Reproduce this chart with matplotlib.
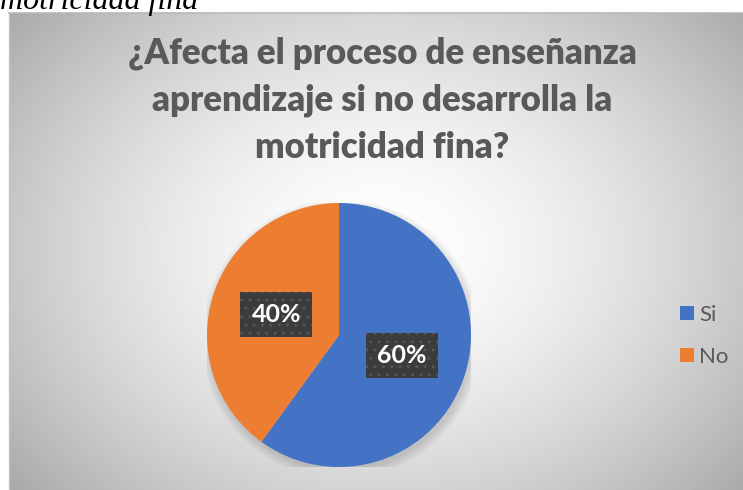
import numpy as np
import matplotlib
matplotlib.use('Agg')
import matplotlib.pyplot as plt
from matplotlib.patches import Circle, Patch

# chart data
categorias = ['Si', 'No']
porcentajes = [60, 40]
colores = ['#4472C4', '#ED7D31']
titulo = '¿Afecta el proceso de enseñanza\naprendizaje si no desarrolla la\nmotricidad fina?'
texto_superior = 'motricidad fina'

W, H = 743, 490
fig = plt.figure(figsize=(W / 100, H / 100), dpi=100)
fig.patch.set_facecolor('white')

# chart area with radial gradient background
bx0, by0 = 9, 13
ax_bg = fig.add_axes([bx0 / W, 0, 1 - bx0 / W, (H - by0) / H])
xx, yy = np.meshgrid(np.linspace(bx0, W, 400), np.linspace(by0, H, 300))
r = np.sqrt(((xx - 380) / 430) ** 2 + ((yy - 250) / 330) ** 2)
grad = np.clip(1.0 - 0.28 * r ** 1.6, 0, 1)
ax_bg.imshow(grad, cmap='gray', vmin=0, vmax=1, aspect='auto',
             extent=[0, 1, 0, 1], origin='upper', interpolation='bilinear')
ax_bg.set_xlim(0, 1)
ax_bg.set_ylim(0, 1)
ax_bg.axis('off')
fig.add_artist(plt.Line2D([bx0 / W, 1], [1 - by0 / H, 1 - by0 / H],
                          color='#b8b8b8', lw=1.2))
fig.add_artist(plt.Line2D([bx0 / W, bx0 / W], [0, 1 - by0 / H],
                          color='#c4c4c4', lw=1.0))

# caption text above the chart (cut off at the top, as in the source)
fig.text(0, 1 - 9 / H, texto_superior, fontsize=23, style='italic',
         family='Liberation Serif', color='black', va='baseline', ha='left')

# title
fig.text(382 / W, 1 - 100 / H, titulo, ha='center', va='center',
         fontsize=25, fontweight='heavy', family='Lato', color='#595959',
         linespacing=1.5)

# pie
cx, cy, rad = 339, 335, 132
ax = fig.add_axes([(cx - rad) / W, (H - cy - rad) / H, 2 * rad / W, 2 * rad / H])
ax.axis('off')
for k in range(6):
    ax.add_patch(Circle((0.015, -0.03), 1.0 + 0.012 * k, color='black',
                        alpha=0.025, lw=0, zorder=0))
wedges, texts, autotexts = ax.pie(
    porcentajes, colors=colores, startangle=90, counterclock=False,
    autopct='%1.0f%%', pctdistance=0.5, radius=1,
    wedgeprops=dict(linewidth=0))
ax.set_xlim(-1, 1)
ax.set_ylim(-1, 1)
for t in autotexts:
    t.set_color('white')
    t.set_fontsize(18)
    t.set_fontweight('bold')
    t.set_family('Lato')
    t.set_bbox(dict(boxstyle='square,pad=0.45', facecolor='#3c3c3c',
                    edgecolor='#555555', hatch='..', linewidth=0))

# legend
handles = [Patch(facecolor=c, edgecolor='none') for c in colores]
leg = fig.legend(handles, categorias, loc='center left',
                 bbox_to_anchor=(680 / W, 1 - 336 / H), frameon=False,
                 prop={'family': 'Lato', 'size': 16}, handlelength=0.62,
                 handleheight=0.62, handletextpad=0.25, labelspacing=1.0,
                 borderpad=0, borderaxespad=0)
for txt in leg.get_texts():
    txt.set_color('#595959')

fig.savefig('out.png', dpi=100)
